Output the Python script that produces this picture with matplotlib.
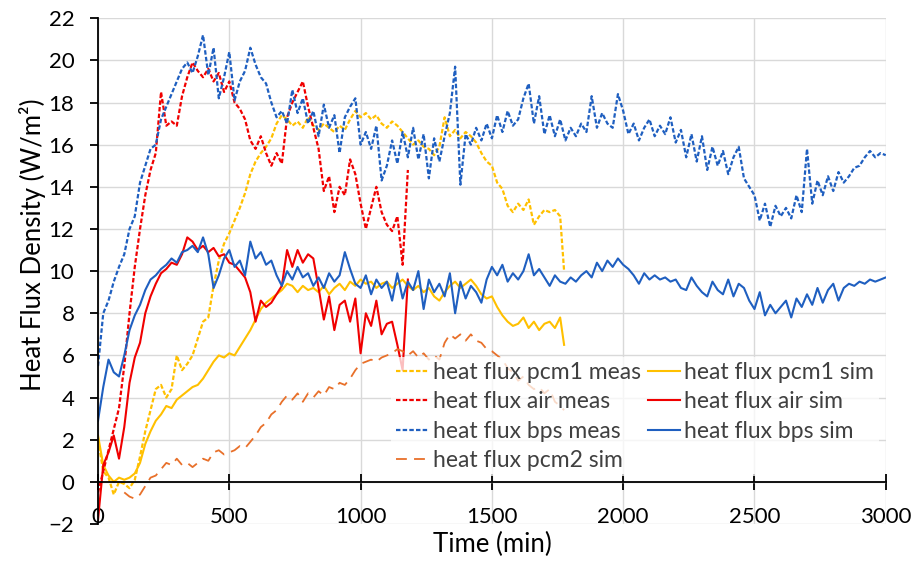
import numpy as np
import matplotlib.pyplot as plt

# -----------------------------
# Data (time in min, flux in W/m2)
# -----------------------------
t_bps = np.arange(0, 3001, 20)
bps_meas = [
    5.5, 8.0, 8.6, 9.5, 10.2, 10.8, 12.0, 12.6, 14.2, 15.0,
    15.8, 16.0, 17.2, 17.8, 18.4, 19.0, 19.6, 19.9, 19.4, 20.2,
    21.2, 19.3, 20.6, 18.2, 19.2, 20.4, 18.1, 19.0, 19.5, 20.6,
    19.8, 19.2, 18.9, 18.0, 17.3, 17.6, 17.0, 18.6, 17.5, 18.2,
    17.0, 17.6, 16.4, 17.9, 16.8, 17.4, 15.6, 17.3, 17.8, 18.2,
    16.0, 16.6, 15.8, 16.9, 14.3, 15.0, 16.2, 15.1, 16.6, 15.4,
    16.8, 15.3, 16.5, 14.4, 16.3, 15.2, 16.4, 17.5, 19.7, 14.1,
    16.5, 16.0, 16.8, 16.2, 17.0, 16.3, 17.4, 16.6, 17.6, 16.9,
    17.2, 18.2, 18.9, 17.0, 18.3, 16.5, 17.4, 16.4, 17.2, 16.2,
    16.8, 16.4, 17.0, 16.6, 18.3, 16.8, 17.5, 17.0, 16.8, 18.4,
    17.6, 16.5, 17.0, 16.2, 16.8, 17.2, 16.4, 16.9, 16.5, 17.3,
    16.1, 16.7, 15.4, 16.5, 15.2, 16.4, 14.8, 15.9, 15.0, 15.7,
    14.6, 15.4, 15.9, 14.4, 14.0, 13.6, 12.4, 13.2, 12.1, 13.1,
    12.6, 13.0, 12.5, 13.6, 12.8, 15.8, 13.2, 14.3, 13.6, 14.5,
    13.8, 14.7, 14.2, 14.5, 14.9, 15.0, 15.4, 15.7, 15.4, 15.6,
    15.5,
]
bps_sim = [
    2.9, 4.5, 5.8, 5.2, 5.0, 6.0, 7.2, 7.9, 8.4, 9.1,
    9.6, 9.8, 10.1, 10.3, 10.6, 10.4, 10.9, 11.0, 11.2, 10.9,
    11.6, 10.8, 9.2, 9.8, 10.6, 11.0, 10.2, 10.5, 9.8, 11.4,
    10.6, 10.9, 10.3, 10.5, 9.8, 9.3, 10.0, 9.6, 10.2, 9.7,
    9.9, 9.3, 9.7, 9.2, 9.9, 9.5, 9.8, 10.9, 10.1, 9.4,
    9.2, 9.8, 8.9, 9.6, 9.2, 9.5, 8.6, 9.9, 8.7, 9.5,
    9.1, 10.0, 8.2, 9.6, 9.0, 9.4, 8.8, 9.9, 8.0, 9.5,
    8.7, 9.3, 9.0, 8.5, 9.6, 10.2, 9.8, 10.3, 9.5, 9.9,
    9.6, 10.0, 10.8, 9.8, 10.1, 9.7, 9.3, 9.8, 9.5, 9.4,
    9.7, 9.5, 9.8, 10.0, 9.7, 10.4, 10.0, 10.5, 10.2, 10.6,
    10.3, 10.1, 9.8, 9.4, 9.9, 9.6, 9.8, 9.6, 9.7, 9.5,
    9.6, 9.2, 9.1, 9.7, 9.3, 9.0, 8.8, 9.5, 9.1, 8.9,
    9.6, 8.8, 9.4, 9.2, 8.6, 8.2, 9.0, 7.9, 8.4, 8.0,
    8.3, 8.6, 7.8, 8.7, 8.3, 8.9, 8.4, 9.2, 8.5, 9.1,
    9.4, 8.6, 9.2, 9.4, 9.3, 9.5, 9.4, 9.6, 9.5, 9.6,
    9.7,
]

t_air = np.arange(0, 1181, 20)
air_meas = [
    -0.5, 0.5, 1.5, 2.5, 3.5, 5.5, 8.0, 10.2, 12.0, 13.6,
    14.8, 15.6, 18.5, 16.9, 17.1, 16.9, 18.3, 19.2, 19.9, 19.5,
    19.2, 19.6, 19.0, 19.4, 18.5, 19.0, 18.0, 17.7, 17.2, 16.2,
    15.8, 16.4, 15.6, 15.0, 15.6, 15.1, 17.3, 18.0, 18.5, 19.0,
    17.8, 16.8, 15.8, 13.8, 14.5, 12.8, 14.0, 13.6, 15.3, 14.6,
    13.2, 12.0, 13.0, 14.0, 12.8, 12.2, 11.9, 12.6, 10.3, 14.8,
]
air_sim = [
    -1.8, 0.8, 1.4, 2.2, 1.1, 2.6, 4.7, 5.9, 6.6, 8.0,
    8.8, 9.4, 9.9, 10.1, 10.4, 10.3, 10.8, 11.6, 11.4, 11.0,
    11.2, 10.9, 11.1, 10.7, 10.8, 10.4, 10.3, 10.0, 9.7, 9.0,
    7.6, 8.6, 8.3, 8.5, 8.9, 9.3, 11.0, 10.2, 11.0, 10.4,
    10.8, 10.6, 9.2, 7.7, 8.8, 7.2, 8.4, 8.6, 7.6, 8.7,
    6.1, 8.0, 7.4, 8.6, 7.0, 7.5, 7.6, 6.5, 5.3, 9.6,
]

t_pcm1 = np.r_[np.arange(0, 1761, 20), 1775]
pcm1_meas = [
    2.0, 0.5, 0.2, -0.6, 0.0, -0.1, -0.3, 0.1, 1.2, 2.4,
    3.4, 4.4, 4.6, 4.0, 4.4, 6.0, 5.3, 5.6, 6.0, 6.8,
    7.6, 7.8, 9.3, 10.5, 11.3, 11.8, 12.4, 13.0, 13.7, 14.6,
    15.2, 15.6, 15.9, 16.3, 17.0, 17.4, 17.2, 16.9, 17.1, 16.8,
    17.3, 16.9, 16.7, 17.0, 16.8, 16.6, 16.9, 16.7, 17.2, 17.6,
    17.3, 17.5, 17.2, 17.4, 17.0, 16.8, 17.1, 16.9, 16.6, 16.3,
    16.0, 16.2, 15.9, 15.8, 15.5, 15.9, 17.3, 16.4, 16.7, 16.3,
    16.6, 16.4, 16.1, 15.6, 15.2, 15.0, 14.2, 13.9, 13.1, 12.8,
    13.2, 12.9, 13.4, 12.2, 12.6, 12.9, 12.8, 12.9, 12.6, 10.0,
]
pcm1_sim = [
    2.2, 0.8, 0.3, 0.0, 0.2, 0.1, 0.2, 0.4, 0.9, 1.8,
    2.4, 2.9, 3.2, 3.6, 3.5, 3.9, 4.1, 4.3, 4.5, 4.6,
    4.9, 5.3, 5.7, 6.0, 5.9, 6.1, 6.0, 6.4, 6.8, 7.2,
    7.7, 8.2, 8.5, 8.7, 8.9, 9.1, 9.4, 9.3, 9.0, 9.3,
    9.1, 9.2, 9.0, 9.3, 8.9, 9.2, 9.4, 9.1, 9.5, 9.3,
    9.6, 9.4, 9.5, 9.2, 9.4, 9.5, 9.2, 9.4, 9.6, 9.3,
    9.1, 9.3, 9.0, 9.2, 8.8, 8.6, 9.0, 9.3, 9.5, 9.2,
    9.4, 9.6, 9.3, 8.9, 8.7, 8.8, 8.3, 7.9, 7.6, 7.4,
    7.5, 7.8, 7.3, 7.6, 7.2, 7.5, 7.6, 7.3, 7.8, 6.5,
]

t_pcm2 = np.r_[np.arange(100, 1761, 20), 1775]
pcm2_sim = [
    -0.5, -0.7, -0.8, -0.6, -0.2, 0.2, 0.3, 0.6, 0.9, 0.8,
    1.1, 0.8, 0.9, 0.7, 0.9, 1.1, 1.0, 1.4, 1.5, 1.3,
    1.4, 1.5, 1.7, 1.6, 1.9, 2.2, 2.6, 2.8, 3.2, 3.4,
    3.8, 4.1, 3.9, 4.2, 3.8, 4.2, 4.0, 4.3, 4.1, 4.5,
    4.4, 4.7, 4.6, 4.9, 5.3, 5.6, 5.7, 5.8, 5.7, 5.9,
    6.0, 6.1, 6.3, 6.2, 6.0, 6.2, 5.9, 6.1, 5.8, 6.0,
    5.8, 6.6, 7.0, 6.8, 7.0, 6.7, 7.0, 6.7, 6.6, 6.3,
    6.2, 6.0, 5.8, 5.4, 5.2, 4.8, 5.0, 4.6, 4.4, 4.5,
    4.2, 4.4, 3.8, 3.6, 3.4,
]

x_ticks = [0, 500, 1000, 1500, 2000, 2500, 3000]
y_ticks = list(range(-2, 23, 2))

# -----------------------------
# Style
# -----------------------------
plt.rcParams.update({
    "font.family": ["Lato", "DejaVu Sans"],
    "font.size": 16,
})

c_gold = "#FFC000"
c_red = "#F00000"
c_blue = "#1F5FC0"
c_orange = "#E8702A"
meas_dash = (2.0, 1.0)

fig = plt.figure(figsize=(9.16, 5.62), dpi=100)
ax = fig.add_axes([0.107, 0.0676, 0.860, 0.900])

ax.plot(t_pcm1, pcm1_meas, color=c_gold, lw=1.6, dashes=meas_dash, label="heat flux pcm1 meas")
ax.plot(t_pcm1, pcm1_sim, color=c_gold, lw=1.5, label="heat flux pcm1 sim")
ax.plot(t_air, air_meas, color=c_red, lw=1.6, dashes=meas_dash, label="heat flux air meas")
ax.plot(t_air, air_sim, color=c_red, lw=1.5, label="heat flux air sim")
ax.plot(t_bps, bps_meas, color=c_blue, lw=1.6, dashes=meas_dash, label="heat flux bps meas")
ax.plot(t_bps, bps_sim, color=c_blue, lw=1.5, label="heat flux bps sim")
ax.plot(t_pcm2, pcm2_sim, color=c_orange, lw=1.3, dashes=(6, 4), label="heat flux pcm2 sim")

ax.set_xlim(0, 3000)
ax.set_ylim(-2, 22)
ax.set_xticks(x_ticks)
ax.set_yticks(y_ticks)
ax.grid(True, color="#d9d9d9", lw=1.0)
ax.set_axisbelow(True)

for s in ["top", "right"]:
    ax.spines[s].set_visible(False)
ax.spines["left"].set_linewidth(1.3)
ax.spines["bottom"].set_linewidth(1.3)
ax.spines["bottom"].set_position(("data", 0))
ax.tick_params(axis="y", direction="out", length=6, width=1.3, labelsize=16, pad=11)
ax.tick_params(axis="x", direction="inout", length=11.5, width=1.3, labelsize=16, pad=12)

ax.set_xlabel("Time (min)", fontsize=18.5)
ax.xaxis.set_label_coords(0.5, -0.015)
ax.set_ylabel("Heat Flux Density (W/m²)", fontsize=18.5)
ax.yaxis.set_label_coords(-0.066, 0.553)

h, l = ax.get_legend_handles_labels()
order = [0, 2, 4, 6, 1, 3, 5]
leg = ax.legend([h[i] for i in order], [l[i] for i in order], ncol=2,
                loc="upper left", bbox_to_anchor=(0.358, 0.352),
                frameon=True, framealpha=0.75, edgecolor="none", facecolor="white",
                fancybox=False, handlelength=1.4, handletextpad=0.2,
                columnspacing=0.3, labelspacing=0.37, borderpad=0.2,
                fontsize=16.5)
for txt in leg.get_texts():
    txt.set_color("#404040")

fig.savefig("out.png", dpi=100)
